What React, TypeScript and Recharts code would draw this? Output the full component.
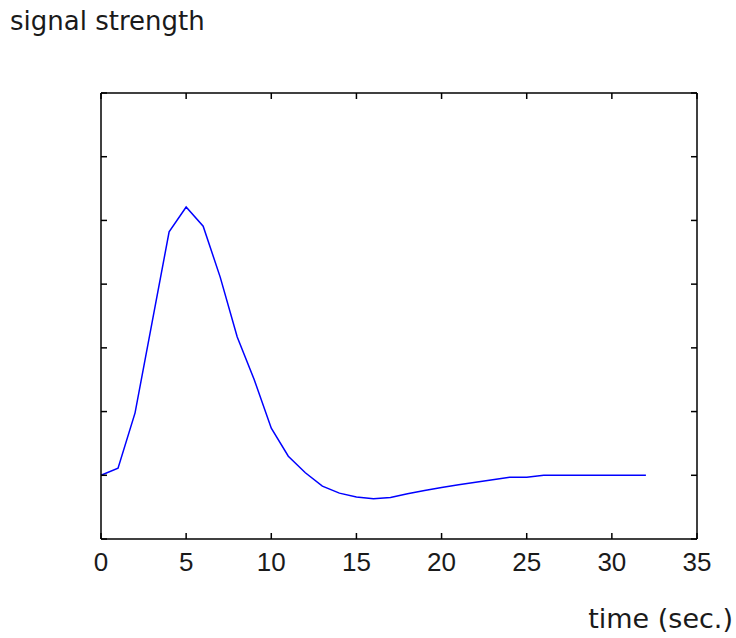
import { LineChart, Line, XAxis, YAxis } from "recharts";

// seconds, one sample per second
const time = [
  0, 1, 2, 3, 4, 5, 6, 7, 8, 9, 10, 11, 12, 13, 14, 15, 16, 17, 18, 19, 20,
  21, 22, 23, 24, 25, 26, 27, 28, 29, 30, 31, 32,
];
const signal = [
  1.0, 1.11, 1.98, 3.4, 4.82, 5.21, 4.91, 4.11, 3.17, 2.5, 1.74, 1.3, 1.04,
  0.83, 0.72, 0.66, 0.63, 0.65, 0.71, 0.76, 0.81, 0.85, 0.89, 0.93, 0.97,
  0.97, 1.0, 1.0, 1.0, 1.0, 1.0, 1.0, 1.0,
];
const xTicks = [0, 5, 10, 15, 20, 25, 30, 35];
const yTicks = [0, 1, 2, 3, 4, 5, 6, 7];

const data = time.map((t, i) => ({ t, v: signal[i] }));

const W = 736;
const H = 638;
const MARGIN = { top: 92, right: 38, bottom: 59, left: 100 };
const AXIS_W = 1;
const PLOT_W = W - MARGIN.left - MARGIN.right - 2 * AXIS_W;

const frame = { stroke: "#000", strokeWidth: 1.5 };
const labelFont = "'DejaVu Sans', sans-serif";
const TICK = 6;

// matlab-style ticks point into the plot box
function BottomTick({ x, y, payload }: any) {
  return (
    <g>
      <path d={`M${x},${y}V${y - TICK}`} {...frame} fill="none" />
      <text
        x={x}
        y={y + 32}
        textAnchor="middle"
        fill="#1a1a1a"
        fontSize={26}
        fontFamily="'Liberation Sans', Arial, sans-serif"
      >
        {payload.value}
      </text>
    </g>
  );
}

function TopTick({ x, y }: any) {
  return <path d={`M${x},${y}V${y + TICK}`} {...frame} fill="none" />;
}

// right axis ticks don't render on an axis without a series, so draw both sides here
function LeftTick({ x, y }: any) {
  return (
    <g>
      <path d={`M${x},${y}H${x + TICK}`} {...frame} fill="none" />
      <path d={`M${x + PLOT_W},${y}H${x + PLOT_W - TICK}`} {...frame} fill="none" />
    </g>
  );
}

export default function App() {
  return (
    <div style={{ position: "relative", width: W, height: H, background: "#fff" }}>
      <style>{"body{margin:0}"}</style>
      <div
        style={{
          position: "absolute",
          left: 10,
          top: 6,
          fontFamily: labelFont,
          fontSize: 26,
          color: "#1a1a1a",
          whiteSpace: "nowrap",
        }}
      >
        signal strength
      </div>
      <LineChart width={W} height={H} data={data} margin={MARGIN}>
        <XAxis
          dataKey="t"
          type="number"
          domain={[0, 35]}
          ticks={xTicks}
          interval={0}
          height={40}
          tickSize={0}
          tickMargin={0}
          axisLine={frame}
          tickLine={false}
          tick={BottomTick}
        />
        <XAxis
          xAxisId="top"
          orientation="top"
          dataKey="t"
          type="number"
          domain={[0, 35]}
          ticks={xTicks}
          interval={0}
          height={AXIS_W}
          tickSize={0}
          tickMargin={0}
          axisLine={frame}
          tickLine={false}
          tick={TopTick}
        />
        <YAxis
          type="number"
          domain={[0, 7]}
          ticks={yTicks}
          interval={0}
          width={AXIS_W}
          tickSize={0}
          tickMargin={0}
          axisLine={frame}
          tickLine={false}
          tick={LeftTick}
        />
        <YAxis
          yAxisId="right"
          orientation="right"
          type="number"
          domain={[0, 7]}
          width={AXIS_W}
          axisLine={frame}
          tickLine={false}
          tick={false}
        />
        <Line
          type="linear"
          dataKey="v"
          stroke="#0000ff"
          strokeWidth={1.5}
          dot={false}
          isAnimationActive={false}
        />
      </LineChart>
      <div
        style={{
          position: "absolute",
          right: 3,
          top: 603,
          fontFamily: labelFont,
          fontSize: 27,
          color: "#1a1a1a",
          whiteSpace: "nowrap",
        }}
      >
        time (sec.)
      </div>
    </div>
  );
}
